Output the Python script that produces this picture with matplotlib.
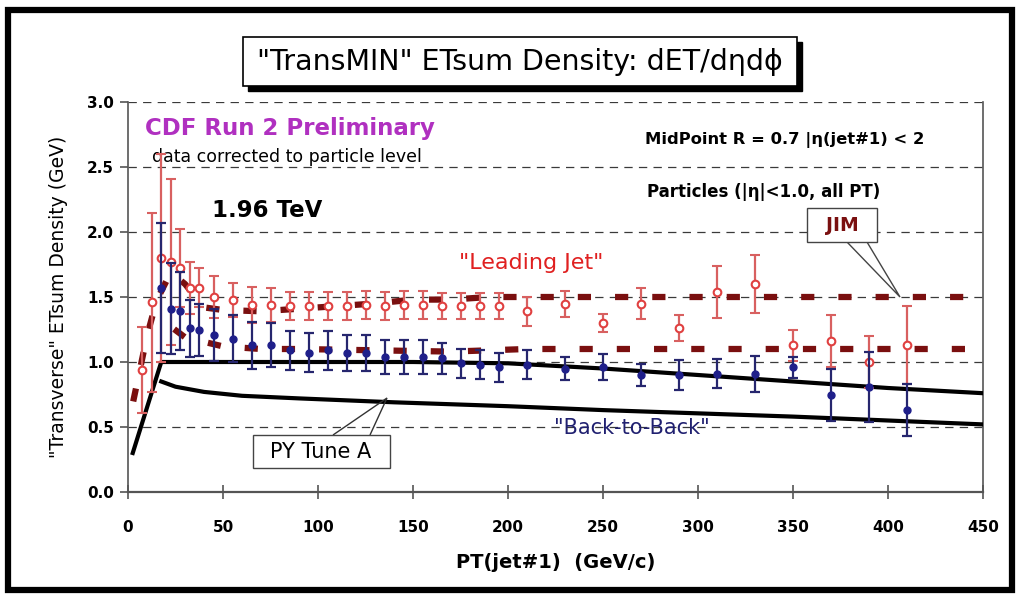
import matplotlib
matplotlib.use("Agg")
import matplotlib.pyplot as plt
from matplotlib.patches import Rectangle, Polygon

plt.rcParams['font.family'] = ['DejaVu Sans']
plt.rcParams['lines.scale_dashes'] = False

# ---------------- data ----------------
lj_x = [7.5, 12.5, 17.5, 22.5, 27.5, 32.5, 37.5, 45, 55, 65, 75, 85, 95, 105, 115, 125,
        135, 145, 155, 165, 175, 185, 195, 210, 230, 250, 270, 290, 310, 330, 350, 370, 390, 410]
lj_y = [0.94, 1.46, 1.80, 1.77, 1.72, 1.57, 1.57, 1.50, 1.48, 1.44, 1.44, 1.43, 1.43, 1.43,
        1.43, 1.44, 1.43, 1.44, 1.44, 1.43, 1.43, 1.43, 1.43, 1.39, 1.45, 1.30, 1.45, 1.26,
        1.54, 1.60, 1.13, 1.16, 1.00, 1.13]
lj_err = [0.33, 0.69, 0.80, 0.64, 0.30, 0.20, 0.15, 0.16, 0.13, 0.14, 0.13, 0.11, 0.11, 0.11,
          0.11, 0.11, 0.11, 0.11, 0.11, 0.10, 0.10, 0.10, 0.10, 0.11, 0.10, 0.07, 0.12, 0.10,
          0.20, 0.22, 0.12, 0.20, 0.20, 0.30]

bb_x = [17.5, 22.5, 27.5, 32.5, 37.5, 45, 55, 65, 75, 85, 95, 105, 115, 125, 135, 145, 155,
        165, 175, 185, 195, 210, 230, 250, 270, 290, 310, 330, 350, 370, 390, 410]
bb_y = [1.57, 1.41, 1.39, 1.26, 1.25, 1.21, 1.18, 1.13, 1.13, 1.09, 1.07, 1.09, 1.07, 1.07,
        1.04, 1.04, 1.04, 1.03, 0.99, 0.98, 0.96, 0.98, 0.95, 0.96, 0.90, 0.90, 0.91, 0.91,
        0.96, 0.75, 0.81, 0.63]
bb_err = [0.50, 0.35, 0.30, 0.22, 0.20, 0.20, 0.18, 0.18, 0.17, 0.15, 0.15, 0.15, 0.14, 0.14,
          0.13, 0.13, 0.13, 0.12, 0.11, 0.11, 0.11, 0.11, 0.09, 0.10, 0.085, 0.115, 0.11,
          0.14, 0.08, 0.20, 0.27, 0.20]

jim_lj_x = [2.5, 10, 15, 22.5, 30, 40, 50, 70, 90, 110, 130, 150, 170, 190, 210, 445]
jim_lj_y = [0.68, 1.20, 1.47, 1.69, 1.60, 1.42, 1.40, 1.39, 1.41, 1.43, 1.45, 1.48, 1.48,
            1.50, 1.50, 1.50]
jim_bb_x = [20, 30, 50, 70, 90, 130, 170, 210, 445]
jim_bb_y = [1.30, 1.19, 1.12, 1.10, 1.10, 1.09, 1.08, 1.10, 1.10]

py_lj_x = [2.5, 17.5, 50, 100, 150, 200, 250, 300, 350, 400, 450]
py_lj_y = [0.30, 1.00, 1.00, 1.00, 1.00, 0.99, 0.95, 0.90, 0.85, 0.80, 0.76]
py_bb_x = [17.5, 25, 40, 60, 90, 140, 200, 250, 300, 350, 400, 450]
py_bb_y = [0.85, 0.81, 0.77, 0.74, 0.72, 0.69, 0.66, 0.63, 0.605, 0.58, 0.55, 0.52]

x_ticks = [0, 50, 100, 150, 200, 250, 300, 350, 400, 450]
y_ticks = [0.0, 0.5, 1.0, 1.5, 2.0, 2.5, 3.0]

# ---------------- figure ----------------
W, H = 1024, 595
fig = plt.figure(figsize=(W / 100, H / 100), dpi=100)
fig.patch.set_facecolor('white')


def fx(px):
    return px / W


def fy(py):
    return 1 - py / H


ax = fig.add_axes([fx(128), fy(492), fx(983) - fx(128), fy(102) - fy(492)])
ax.set_xlim(0, 450)
ax.set_ylim(0, 3.0)


def dx(px):
    return (px - 128) / ((983 - 128) / 450)


def dy(py):
    return (492 - py) / ((492 - 102) / 3.0)


# grid
for yv in y_ticks[1:]:
    ax.axhline(yv, color='#3a3a3a', lw=0.9, linestyle=(0, (6, 4.5)), zorder=1)

# models
ax.plot(jim_lj_x, jim_lj_y, color='#7a0f0f', lw=4.5, linestyle=(25.2, (9.5, 17.3)),
        dash_capstyle='butt', zorder=3)
ax.plot(jim_bb_x, jim_bb_y, color='#7a0f0f', lw=4.5, linestyle=(19.5, (9.5, 17.3)),
        dash_capstyle='butt', zorder=3)
ax.plot(py_lj_x, py_lj_y, color='black', lw=3.0, zorder=4)
ax.plot(py_bb_x, py_bb_y, color='black', lw=3.0, zorder=4)

# data
ax.errorbar(lj_x, lj_y, yerr=lj_err, fmt='o', color='#e05555', ecolor='#d86060',
            elinewidth=1.6, capsize=3.8, capthick=1.6, mfc='white', mec='#e04040',
            ms=5.5, mew=1.5, zorder=5)
ax.errorbar(bb_x, bb_y, yerr=bb_err, fmt='o', color='#1f1f7a', ecolor='#26266e',
            elinewidth=1.6, capsize=3.8, capthick=1.6, mfc='#1f1f8a', mec='#1f1f8a',
            ms=5.0, zorder=6)

# axes styling
ax.spines['top'].set_visible(False)
for s in ['left', 'bottom', 'right']:
    ax.spines[s].set_color('#555555')
    ax.spines[s].set_linewidth(1.2)
ax.spines['bottom'].set_linewidth(1.6)
ax.set_xticks(x_ticks)
ax.set_yticks(y_ticks)
ax.set_xticklabels([str(v) for v in x_ticks], fontsize=11, fontweight='bold')
ax.set_yticklabels(['%.1f' % v for v in y_ticks], fontsize=11, fontweight='bold')
ax.tick_params(axis='x', direction='inout', length=10, width=1.2, color='#555555', pad=15)
ax.tick_params(axis='y', direction='out', length=6, width=1.2, color='#555555', pad=4)

ax.set_xlabel('PT(jet#1)  (GeV/c)', fontsize=14, fontweight='bold', labelpad=13)
ax.set_ylabel('"Transverse" ETsum Density (GeV)', fontsize=13.5, labelpad=14)

# texts
ax.text(dx(145), dy(128), 'CDF Run 2 Preliminary', color='#b030c0', fontsize=16.5,
        fontweight='bold', ha='left', va='center')
ax.text(dx(152), dy(157), 'data corrected to particle level', color='black', fontsize=12.5,
        ha='left', va='center')
ax.text(dx(212), dy(210), '1.96 TeV', color='black', fontsize=16.5, fontweight='bold',
        ha='left', va='center')
ax.text(dx(645), dy(140), 'MidPoint R = 0.7 |η(jet#1) < 2', color='black', fontsize=11.8,
        fontweight='bold', ha='left', va='center')
ax.text(dx(647), dy(192), 'Particles (|η|<1.0, all PT)', color='black', fontsize=12,
        fontweight='bold', ha='left', va='center')
ax.text(dx(459), dy(263), '"Leading Jet"', color='#e02020', fontsize=16, ha='left',
        va='center')
ax.text(dx(554), dy(428), '"Back-to-Back"', color='#202070', fontsize=15, ha='left',
        va='center')

# JIM callout box
ax.add_patch(Polygon([[dx(847), dy(242)], [dx(900), dy(297)], [dx(867), dy(242)]],
                     closed=False, fill=False, edgecolor='#444444', lw=1.0, zorder=7))
ax.add_patch(Rectangle((dx(807), dy(242)), dx(877) - dx(807), dy(208) - dy(242),
                       facecolor='white', edgecolor='#444444', lw=1.0, zorder=8))
ax.text(dx(842), dy(225), 'JIM', color='#7a1010', fontsize=13.5, fontweight='bold',
        ha='center', va='center', zorder=9)

# PY Tune A callout box
ax.add_patch(Polygon([[dx(333), dy(435)], [dx(387), dy(398)], [dx(370), dy(435)]],
                     closed=False, fill=False, edgecolor='#333333', lw=1.0, zorder=7))
ax.add_patch(Rectangle((dx(253), dy(468)), dx(390) - dx(253), dy(435) - dy(468),
                       facecolor='white', edgecolor='#444444', lw=1.0, zorder=8))
ax.text(dx(321), dy(452), 'PY Tune A', color='black', fontsize=15, ha='center',
        va='center', zorder=9)

# title box with shadow
tx0, ty0, tx1, ty1 = 243, 37, 797, 86
fig.patches.append(Rectangle((fx(tx0 + 5), fy(ty1 + 5)), fx(tx1) - fx(tx0),
                             fy(ty0) - fy(ty1), transform=fig.transFigure,
                             facecolor='black', edgecolor='black', zorder=1))
fig.patches.append(Rectangle((fx(tx0), fy(ty1)), fx(tx1) - fx(tx0), fy(ty0) - fy(ty1),
                             transform=fig.transFigure, facecolor='white',
                             edgecolor='black', lw=1.2, zorder=2))
fig.text(fx((tx0 + tx1) / 2), fy((ty0 + ty1) / 2), '"TransMIN" ETsum Density: dET/dηdϕ',
         fontsize=20.5, ha='center', va='center', zorder=3)

# outer frame
fig.patches.append(Rectangle((fx(8), fy(590)), fx(1012) - fx(8), fy(10) - fy(590),
                             transform=fig.transFigure, facecolor='none',
                             edgecolor='black', lw=4.5, zorder=0))

fig.savefig('out.png', dpi=100)
